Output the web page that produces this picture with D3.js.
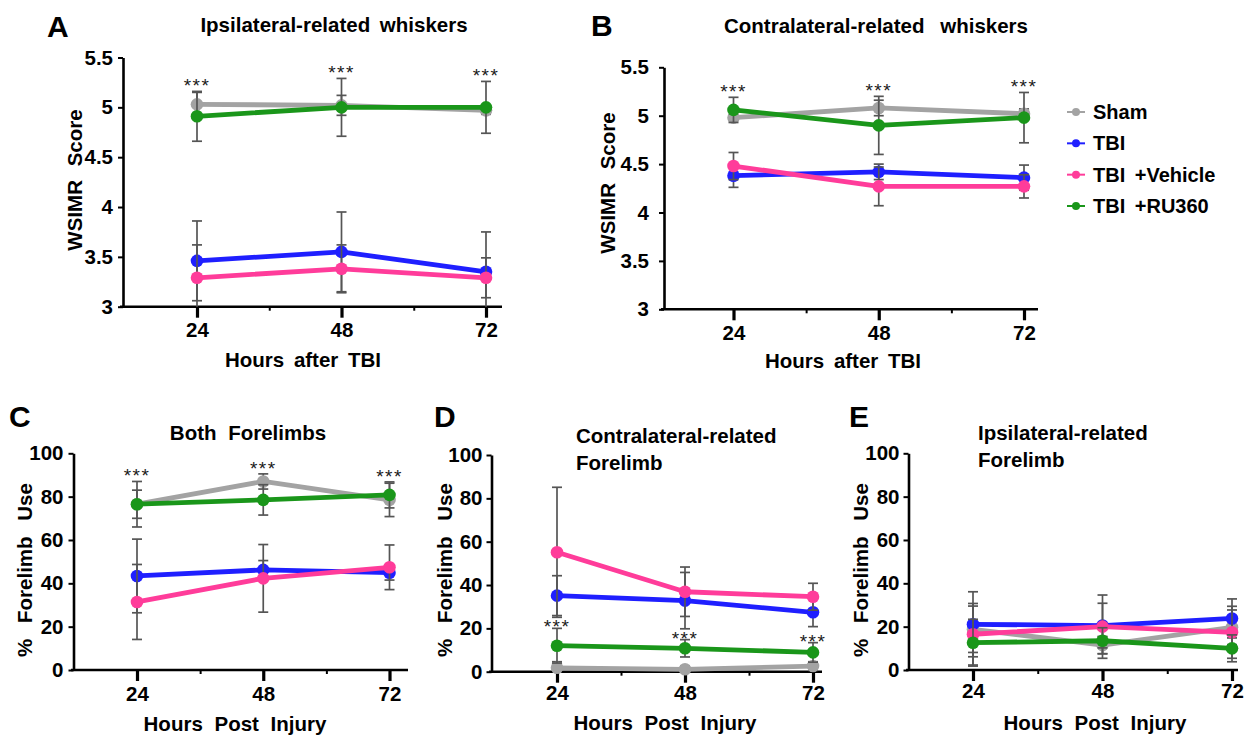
<!DOCTYPE html>
<html>
<head>
<meta charset="utf-8">
<script src="https://cdn.jsdelivr.net/npm/d3@7"></script>
<style>
  body { margin: 0; background: #fff; }
  svg { display: block; font-family: "Liberation Sans", Arial, sans-serif; }
</style>
</head>
<body>
<svg id="chart" width="1258" height="737"></svg>
<script>
// ---------------- DATA ----------------
const hours = [24, 48, 72];
const minorHours = [36, 60];
const groupNames = ["Sham", "TBI", "TBI +Vehicle", "TBI +RU360"];
const whiskerTicks = [3, 3.5, 4, 4.5, 5, 5.5];
const forelimbTicks = [0, 20, 40, 60, 80, 100];

// A: Ipsilateral-related whiskers (WSIMR score)
const aSham = [5.03, 5.02, 4.97];
const aShamErr = [0.12, 0.10, 0.04];
const aTbi = [3.46, 3.55, 3.35];
const aTbiErr = [0.40, 0.40, 0.40];
const aVeh = [3.29, 3.38, 3.29];
const aVehErr = [0.33, 0.24, 0.20];
const aRu = [4.91, 5.00, 5.00];
const aRuErr = [0.25, 0.29, 0.26];

// B: Contralateral-related whiskers (WSIMR score)
const bSham = [4.98, 5.08, 5.02];
const bShamErr = [0.03, 0.08, 0.05];
const bTbi = [4.38, 4.42, 4.36];
const bTbiErr = [0.12, 0.08, 0.13];
const bVeh = [4.48, 4.27, 4.27];
const bVehErr = [0.14, 0.20, 0.12];
const bRu = [5.06, 4.90, 4.98];
const bRuErr = [0.13, 0.30, 0.26];

// C: Both forelimbs (% use)
const cSham = [76.5, 87.0, 78.5];
const cShamErr = [6.5, 3.5, 7.7];
const cTbi = [43.4, 46.2, 44.9];
const cTbiErr = [17.0, 4.3, 3.4];
const cVeh = [31.4, 42.3, 47.4];
const cVehErr = [17.3, 15.6, 10.3];
const cRu = [76.5, 78.5, 80.8];
const cRuErr = [10.5, 7.0, 6.0];

// D: Contralateral-related forelimb (% use)
const dSham = [1.8, 1.1, 2.6];
const dShamErr = [2.8, 1.5, 2.0];
const dTbi = [35.1, 32.8, 27.4];
const dTbiErr = [9.2, 13.0, 6.6];
const dVeh = [55.1, 36.9, 34.6];
const dVehErr = [30.0, 11.4, 6.2];
const dRu = [12.0, 10.8, 8.9];
const dRuErr = [8.0, 4.0, 4.5];

// E: Ipsilateral-related forelimb (% use)
const eSham = [18.8, 11.5, 19.7];
const eShamErr = [10.7, 4.0, 8.0];
const eTbi = [21.1, 20.5, 23.8];
const eTbiErr = [15.0, 10.3, 9.0];
const eVeh = [16.5, 20.0, 17.4];
const eVehErr = [14.2, 14.6, 12.0];
const eRu = [12.6, 13.5, 10.0];
const eRuErr = [10.8, 6.0, 6.2];

// ---------------- STYLE ----------------
const groupColors = ["#a3a3a3", "#1f1fff", "#ff3c9a", "#1a961a"];
const errColor = "#555555";

const panels = [
  { letter: "A", letterX: 47, letterY: 37,
    title: ["Ipsilateral-related whiskers"], titleX: 334, titleY: 32, titleAnchor: "middle", titleWS: 4,
    left: 120, right: 502, yAxisX: 123, x24: 197, x72: 486, yTop: 57.5, yBot: 306.7,
    yDomain: [3, 5.5], yTicks: whiskerTicks, tickGap: 5,
    yLabel: "WSIMR Score", yLabelX: 82, yLabelY: 180, yLabelWS: 8,
    xLabel: "Hours after TBI", xLabelX: 303, xLabelY: 367, xLabelWS: 4, tickBase: 337,
    series: [[aSham, aShamErr], [aTbi, aTbiErr], [aVeh, aVehErr], [aRu, aRuErr]],
    stars: "max", starShift: 1 },
  { letter: "B", letterX: 591, letterY: 36,
    title: ["Contralateral-related whiskers"], titleX: 876, titleY: 33, titleAnchor: "middle", titleWS: 10,
    left: 661, right: 1038, yAxisX: 664, x24: 733.5, x72: 1024, yTop: 67.3, yBot: 309.3,
    yDomain: [3, 5.5], yTicks: whiskerTicks, tickGap: 10,
    yLabel: "WSIMR Score", yLabelX: 615, yLabelY: 183, yLabelWS: 8,
    xLabel: "Hours after TBI", xLabelX: 843, xLabelY: 368, xLabelWS: 4, tickBase: 340,
    series: [[bSham, bShamErr], [bTbi, bTbiErr], [bVeh, bVehErr], [bRu, bRuErr]],
    stars: "max", starShift: 1 },
  { letter: "C", letterX: 9, letterY: 427,
    title: ["Both Forelimbs"], titleX: 248, titleY: 440, titleAnchor: "middle", titleWS: 6,
    left: 71, right: 408, yAxisX: 73.5, x24: 137, x72: 389.5, yTop: 453.3, yBot: 670,
    yDomain: [0, 100], yTicks: forelimbTicks, tickGap: 5,
    yLabel: "% Forelimb Use", yLabelX: 32, yLabelY: 570, yLabelWS: 10,
    xLabel: "Hours Post Injury", xLabelX: 235, xLabelY: 731, xLabelWS: 6, tickBase: 701,
    series: [[cSham, cShamErr], [cTbi, cTbiErr], [cVeh, cVehErr], [cRu, cRuErr]],
    stars: "max", starShift: 1 },
  { letter: "D", letterX: 434, letterY: 427,
    title: ["Contralateral-related", "Forelimb"], titleX: 576, titleY: 443, titleAnchor: "start", titleWS: 0,
    left: 489, right: 822, yAxisX: 491.5, x24: 557, x72: 813, yTop: 455, yBot: 671.7,
    yDomain: [0, 100], yTicks: forelimbTicks, tickGap: 4,
    yLabel: "% Forelimb Use", yLabelX: 452, yLabelY: 570, yLabelWS: 10,
    xLabel: "Hours Post Injury", xLabelX: 665, xLabelY: 730, xLabelWS: 6, tickBase: 700,
    series: [[dSham, dShamErr], [dTbi, dTbiErr], [dVeh, dVehErr], [dRu, dRuErr]],
    stars: "ru", starShift: 5 },
  { letter: "E", letterX: 849, letterY: 427,
    title: ["Ipsilateral-related", "Forelimb"], titleX: 978, titleY: 440, titleAnchor: "start", titleWS: 0,
    left: 906, right: 1238, yAxisX: 908.5, x24: 973, x72: 1232, yTop: 453.3, yBot: 670,
    yDomain: [0, 100], yTicks: forelimbTicks, tickGap: 4,
    yLabel: "% Forelimb Use", yLabelX: 868, yLabelY: 570, yLabelWS: 10,
    xLabel: "Hours Post Injury", xLabelX: 1095, xLabelY: 730, xLabelWS: 6, tickBase: 698,
    series: [[eSham, eShamErr], [eTbi, eTbiErr], [eVeh, eVehErr], [eRu, eRuErr]],
    stars: null, starShift: 0 }
];

const svg = d3.select("#chart");

panels.forEach(p => {
  const g = svg.append("g");
  const x = d3.scaleLinear().domain([24, 72]).range([p.x24, p.x72]);
  const y = d3.scaleLinear().domain(p.yDomain).range([p.yBot, p.yTop]);
  const yc = y.copy().clamp(true);

  // panel letter
  g.append("text").attr("x", p.letterX).attr("y", p.letterY)
    .attr("font-size", 30).attr("font-weight", "bold").text(p.letter);

  // title
  p.title.forEach((t, i) => {
    g.append("text").attr("x", p.titleX).attr("y", p.titleY + i * 27)
      .attr("text-anchor", p.titleAnchor).attr("font-size", 20.5).attr("font-weight", "bold")
      .style("word-spacing", p.titleWS + "px").text(t);
  });

  // y axis
  const ya = g.append("g").attr("transform", `translate(${p.yAxisX},0)`)
    .call(d3.axisLeft(y).tickValues(p.yTicks).tickSize(5).tickSizeOuter(0)
      .tickPadding(p.tickGap).tickFormat(d => String(d)));
  ya.select(".domain").attr("stroke", "#000").attr("stroke-width", 2.6);
  ya.selectAll(".tick line").attr("stroke", "#000").attr("stroke-width", 2);
  ya.selectAll(".tick text").attr("font-size", 20.5).attr("font-weight", "bold")
    .attr("font-family", "Liberation Sans, Arial, sans-serif").attr("fill", "#000");

  // x axis baseline
  g.append("line").attr("x1", p.left).attr("x2", p.right)
    .attr("y1", p.yBot).attr("y2", p.yBot).attr("stroke", "#000").attr("stroke-width", 2.6);

  // x major ticks
  const xa = g.append("g").attr("transform", `translate(0,${p.yBot})`)
    .call(d3.axisBottom(x).tickValues(hours).tickSize(11).tickSizeOuter(0));
  xa.select(".domain").remove();
  xa.selectAll(".tick line").attr("stroke", "#000").attr("stroke-width", 3.2);
  xa.selectAll(".tick text").attr("y", p.tickBase - p.yBot).attr("dy", 0)
    .attr("font-size", 20.5).attr("font-weight", "bold")
    .attr("font-family", "Liberation Sans, Arial, sans-serif").attr("fill", "#000");

  // x minor ticks
  const xm = g.append("g").attr("transform", `translate(0,${p.yBot})`)
    .call(d3.axisBottom(x).tickValues(minorHours).tickSize(4).tickSizeOuter(0).tickFormat(""));
  xm.select(".domain").remove();
  xm.selectAll(".tick line").attr("stroke", "#000").attr("stroke-width", 2);

  // axis labels
  g.append("text").attr("transform", `translate(${p.yLabelX},${p.yLabelY}) rotate(-90)`)
    .attr("text-anchor", "middle").attr("font-size", 20.5).attr("font-weight", "bold")
    .style("word-spacing", p.yLabelWS + "px").text(p.yLabel);
  g.append("text").attr("x", p.xLabelX).attr("y", p.xLabelY)
    .attr("text-anchor", "middle").attr("font-size", 20.5).attr("font-weight", "bold")
    .style("word-spacing", p.xLabelWS + "px").text(p.xLabel);

  // series
  const line = d3.line().x((d, i) => x(hours[i])).y(d => y(d));
  p.series.forEach(([mean, err], si) => {
    const col = groupColors[si];
    const sg = g.append("g");
    // error bars
    mean.forEach((m, i) => {
      const cx = x(hours[i]);
      const top = yc(m + err[i]), bot = yc(m - err[i]);
      sg.append("line").attr("x1", cx).attr("x2", cx).attr("y1", top).attr("y2", bot)
        .attr("stroke", errColor).attr("stroke-width", 1.7);
      [m + err[i], m - err[i]].forEach(v => {
        if (v < p.yDomain[0]) return;
        sg.append("line").attr("x1", cx - 5).attr("x2", cx + 5).attr("y1", y(v)).attr("y2", y(v))
          .attr("stroke", errColor).attr("stroke-width", 1.7);
      });
    });
    sg.append("path").datum(mean).attr("d", line).attr("fill", "none")
      .attr("stroke", col).attr("stroke-width", 4.8).attr("stroke-linejoin", "round");
    sg.selectAll("circle").data(mean).enter().append("circle")
      .attr("cx", (d, i) => x(hours[i])).attr("cy", d => y(d)).attr("r", 6.3).attr("fill", col);
  });

  // significance stars
  if (p.stars) {
    hours.forEach((h, i) => {
      let topVal;
      if (p.stars === "max") topVal = d3.max(p.series, ([m, e]) => m[i] + e[i]);
      else topVal = p.series[3][0][i] + p.series[3][1][i];
      g.append("text").attr("x", x(h)).attr("y", y(topVal) + p.starShift)
        .attr("text-anchor", "middle").attr("font-size", 19).attr("fill", "#1a1a1a")
        .style("letter-spacing", "1.5px").text("***");
    });
  }
});

// legend
const legY = d3.scalePoint().domain(groupNames).range([112, 206]);
const leg = svg.append("g");
groupNames.forEach((name, i) => {
  const yy = legY(name);
  leg.append("line").attr("x1", 1067).attr("x2", 1085).attr("y1", yy).attr("y2", yy)
    .attr("stroke", groupColors[i]).attr("stroke-width", 2);
  leg.append("circle").attr("cx", 1076).attr("cy", yy).attr("r", 4).attr("fill", groupColors[i]);
  leg.append("text").attr("x", 1093).attr("y", yy).attr("dy", "0.35em")
    .attr("font-size", 20).attr("font-weight", "bold").style("word-spacing", "4px").text(name);
});
</script>
</body>
</html>
